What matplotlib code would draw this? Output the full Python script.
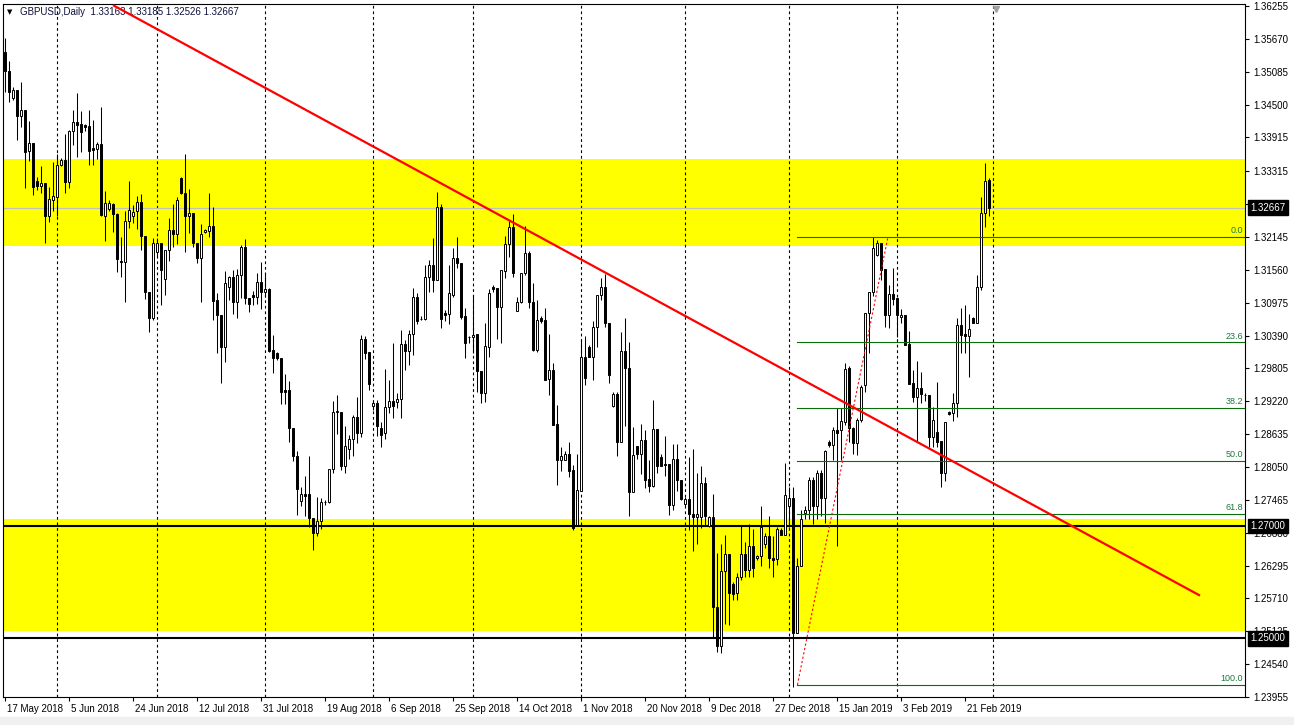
import matplotlib
matplotlib.use("Agg")
import matplotlib.pyplot as plt
import matplotlib.transforms as mtransforms
from matplotlib.patches import Rectangle

# daily GBPUSD candles, one entry per bar
opens = [
    1.3544, 1.3510, 1.3461, 1.3476, 1.3429, 1.3440, 1.3368, 1.3381, 1.3314, 1.3306,
    1.3310, 1.3251, 1.3281, 1.3286, 1.3343, 1.3352, 1.3313, 1.3403, 1.3419, 1.3415,
    1.3414, 1.3412, 1.3372, 1.3371, 1.3379, 1.3251, 1.3264, 1.3273, 1.3255, 1.3172,
    1.3169, 1.3242, 1.3252, 1.3260, 1.3276, 1.3216, 1.3117, 1.3071, 1.3188, 1.3204,
    1.3139, 1.3192, 1.3227, 1.3220, 1.3319, 1.3292, 1.3252, 1.3257, 1.3203, 1.3177,
    1.3224, 1.3225, 1.3234, 1.3102, 1.3076, 1.3019, 1.3126, 1.3143, 1.3099, 1.3147,
    1.3196, 1.3105, 1.3111, 1.3107, 1.3134, 1.3116, 1.3121, 1.3013, 1.3007, 1.2999,
    1.2942, 1.2942, 1.2874, 1.2825, 1.2745, 1.2757, 1.2756, 1.2714, 1.2688, 1.2708,
    1.2742, 1.2742, 1.2801, 1.2903, 1.2903, 1.2806, 1.2837, 1.2854, 1.2894, 1.2865,
    1.3032, 1.3009, 1.2913, 1.2919, 1.2875, 1.2865, 1.2912, 1.2923, 1.2920, 1.2926,
    1.3024, 1.3012, 1.3042, 1.3107, 1.3068, 1.3068, 1.3143, 1.3165, 1.3137, 1.3267,
    1.3079, 1.3078, 1.3111, 1.3177, 1.3168, 1.3074, 1.3037, 1.3036, 1.3042, 1.2975,
    1.2936, 1.3019, 1.3125, 1.3123, 1.3089, 1.3153, 1.3202, 1.3232, 1.3082, 1.3099,
    1.3151, 1.3185, 1.3098, 1.3013, 1.3070, 1.3066, 1.2961, 1.2978, 1.2882, 1.2817,
    1.2818, 1.2828, 1.2799, 1.2702, 1.2763, 1.3000, 1.3019, 1.3001, 1.3054, 1.3111,
    1.3125, 1.3062, 1.2913, 1.2935, 1.2850, 1.3012, 1.2981, 1.2761, 1.2843, 1.2828,
    1.2853, 1.2783, 1.2771, 1.2872, 1.2822, 1.2811, 1.2810, 1.2738, 1.2819, 1.2781,
    1.2739, 1.2748, 1.2722, 1.2716, 1.2716, 1.2776, 1.2700, 1.2716, 1.2556, 1.2487,
    1.2619, 1.2650, 1.2597, 1.2580, 1.2610, 1.2650, 1.2621, 1.2665, 1.2643, 1.2647,
    1.2668, 1.2682, 1.2643, 1.2641, 1.2693, 1.2684, 1.2736, 1.2749, 1.2510, 1.2629,
    1.2723, 1.2728, 1.2782, 1.2735, 1.2795, 1.2749, 1.2850, 1.2844, 1.2870, 1.2870,
    1.2885, 1.2981, 1.2874, 1.2848, 1.2889, 1.2951, 1.3079, 1.3117, 1.3182, 1.3204,
    1.3158, 1.3076, 1.3113, 1.3106, 1.3072, 1.3075, 1.3024, 1.2955, 1.2930, 1.2946,
    1.2933, 1.2933, 1.2859, 1.2867, 1.2852, 1.2795, 1.2903, 1.2901, 1.2919, 1.3058,
    1.3042, 1.3038, 1.3070, 1.3061, 1.3125, 1.3257, 1.33163,
]
highs = [
    1.3568, 1.3528, 1.3482, 1.3476, 1.3491, 1.3440, 1.3420, 1.3381, 1.3322, 1.3340,
    1.3310, 1.3304, 1.3347, 1.3362, 1.3355, 1.3397, 1.3405, 1.3440, 1.3470, 1.3439,
    1.3416, 1.3440, 1.3423, 1.3384, 1.3446, 1.3296, 1.3280, 1.3274, 1.3257, 1.3214,
    1.3260, 1.3314, 1.3271, 1.3288, 1.3291, 1.3216, 1.3117, 1.3212, 1.3212, 1.3204,
    1.3192, 1.3248, 1.3273, 1.3286, 1.3321, 1.3362, 1.3299, 1.3257, 1.3203, 1.3238,
    1.3228, 1.3292, 1.3267, 1.3114, 1.3076, 1.3153, 1.3145, 1.3155, 1.3157, 1.3200,
    1.3210, 1.3105, 1.3118, 1.3151, 1.3169, 1.3150, 1.3123, 1.3040, 1.3010, 1.2999,
    1.2971, 1.2958, 1.2874, 1.2834, 1.2770, 1.2789, 1.2825, 1.2714, 1.2752, 1.2750,
    1.2746, 1.2801, 1.2923, 1.2933, 1.2903, 1.2878, 1.2862, 1.2898, 1.2930, 1.3040,
    1.3038, 1.3009, 1.2925, 1.2925, 1.2885, 1.2979, 1.2960, 1.3025, 1.2936, 1.3049,
    1.3031, 1.3049, 1.3123, 1.3115, 1.3074, 1.3165, 1.3174, 1.3212, 1.3295, 1.3273,
    1.3085, 1.3165, 1.3194, 1.3214, 1.3168, 1.3088, 1.3038, 1.3110, 1.3042, 1.2975,
    1.3061, 1.3121, 1.3129, 1.3123, 1.3156, 1.3216, 1.3242, 1.3255, 1.3107, 1.3151,
    1.3234, 1.3190, 1.3132, 1.3102, 1.3073, 1.3088, 1.3042, 1.2990, 1.2916, 1.2840,
    1.2833, 1.2849, 1.2809, 1.2828, 1.3032, 1.3038, 1.3022, 1.3064, 1.3111, 1.3141,
    1.3149, 1.3062, 1.2938, 1.2938, 1.3045, 1.3070, 1.3027, 1.2876, 1.2843, 1.2882,
    1.2870, 1.2818, 1.2924, 1.2872, 1.2828, 1.2860, 1.2810, 1.2846, 1.2846, 1.2781,
    1.2751, 1.2822, 1.2837, 1.2794, 1.2807, 1.2787, 1.2717, 1.2756, 1.2651, 1.2668,
    1.2683, 1.2650, 1.2601, 1.2616, 1.2702, 1.2671, 1.2704, 1.2694, 1.2649, 1.2736,
    1.2687, 1.2717, 1.2682, 1.2699, 1.2696, 1.2812, 1.2769, 1.2769, 1.2643, 1.2729,
    1.2736, 1.2787, 1.2787, 1.2799, 1.2800, 1.2835, 1.2853, 1.2876, 1.2910, 1.2910,
    1.2990, 1.2985, 1.2876, 1.2893, 1.2950, 1.3079, 1.3117, 1.3215, 1.3209, 1.3204,
    1.3158, 1.3129, 1.3159, 1.3106, 1.3086, 1.3075, 1.3047, 1.2978, 1.2994, 1.2974,
    1.2937, 1.2933, 1.2912, 1.2956, 1.2852, 1.2885, 1.2905, 1.2937, 1.3070, 1.3088,
    1.3094, 1.3077, 1.3072, 1.3147, 1.3286, 1.3346, 1.33185,
]
lows = [
    1.3473, 1.3454, 1.3458, 1.3387, 1.3411, 1.3301, 1.3349, 1.3289, 1.3298, 1.3292,
    1.3203, 1.3241, 1.3260, 1.3251, 1.3340, 1.3292, 1.3301, 1.3378, 1.3357, 1.3366,
    1.3403, 1.3343, 1.3343, 1.3353, 1.3251, 1.3207, 1.3261, 1.3224, 1.3152, 1.3144,
    1.3099, 1.3230, 1.3239, 1.3228, 1.3191, 1.3104, 1.3046, 1.3066, 1.3180, 1.3094,
    1.3111, 1.3171, 1.3197, 1.3202, 1.3290, 1.3187, 1.3221, 1.3197, 1.3168, 1.3099,
    1.3222, 1.3214, 1.3066, 1.3008, 1.2954, 1.2991, 1.3103, 1.3078, 1.3070, 1.3105,
    1.3095, 1.3080, 1.3093, 1.3095, 1.3087, 1.3108, 1.3010, 1.2972, 1.2996, 1.2917,
    1.2917, 1.2850, 1.2815, 1.2720, 1.2736, 1.2718, 1.2699, 1.2658, 1.2682, 1.2694,
    1.2738, 1.2741, 1.2795, 1.2864, 1.2799, 1.2795, 1.2819, 1.2825, 1.2847, 1.2858,
    1.2997, 1.2942, 1.2907, 1.2860, 1.2840, 1.2855, 1.2901, 1.2892, 1.2910, 1.2892,
    1.2978, 1.2987, 1.3005, 1.3060, 1.3067, 1.3067, 1.3116, 1.3116, 1.3137, 1.3052,
    1.3064, 1.3060, 1.3108, 1.3159, 1.3068, 1.2999, 1.3026, 1.3008, 1.2939, 1.2919,
    1.2920, 1.3000, 1.3117, 1.3032, 1.3026, 1.3141, 1.3179, 1.3144, 1.3082, 1.3096,
    1.3147, 1.3088, 1.3012, 1.3009, 1.3062, 1.2960, 1.2933, 1.2880, 1.2773, 1.2797,
    1.2817, 1.2788, 1.2693, 1.2700, 1.2763, 1.2951, 1.3000, 1.2960, 1.3019, 1.3102,
    1.3055, 1.2955, 1.2912, 1.2824, 1.2849, 1.2878, 1.2718, 1.2760, 1.2819, 1.2793,
    1.2767, 1.2760, 1.2770, 1.2794, 1.2806, 1.2789, 1.2720, 1.2728, 1.2763, 1.2747,
    1.2735, 1.2693, 1.2655, 1.2668, 1.2696, 1.2700, 1.2699, 1.2502, 1.2475, 1.2473,
    1.2526, 1.2524, 1.2569, 1.2569, 1.2604, 1.2610, 1.2610, 1.2610, 1.2640, 1.2629,
    1.2661, 1.2625, 1.2610, 1.2631, 1.2683, 1.2684, 1.2699, 1.2414, 1.2510, 1.2629,
    1.2712, 1.2712, 1.2704, 1.2712, 1.2717, 1.2705, 1.2841, 1.2818, 1.2664, 1.2818,
    1.2880, 1.2850, 1.2828, 1.2827, 1.2885, 1.2939, 1.3008, 1.3110, 1.3181, 1.3138,
    1.3054, 1.3053, 1.3093, 1.3037, 1.3061, 1.3022, 1.2953, 1.2921, 1.2850, 1.2919,
    1.2922, 1.2841, 1.2841, 1.2841, 1.2770, 1.2780, 1.2897, 1.2887, 1.2894, 1.3008,
    1.3008, 1.2965, 1.3061, 1.3061, 1.3120, 1.3232, 1.32526,
]
closes = [
    1.3509, 1.3473, 1.3476, 1.3429, 1.3440, 1.3366, 1.3381, 1.3304, 1.3306, 1.3310,
    1.3251, 1.3282, 1.3287, 1.3343, 1.3352, 1.3313, 1.3403, 1.3419, 1.3414, 1.3402,
    1.3411, 1.3367, 1.3369, 1.3379, 1.3253, 1.3274, 1.3274, 1.3255, 1.3175, 1.3169,
    1.3243, 1.3263, 1.3258, 1.3276, 1.3216, 1.3117, 1.3071, 1.3204, 1.3204, 1.3156,
    1.3192, 1.3227, 1.3220, 1.3280, 1.3292, 1.3251, 1.3257, 1.3203, 1.3177, 1.3219,
    1.3227, 1.3234, 1.3101, 1.3075, 1.3019, 1.3132, 1.3143, 1.3099, 1.3147, 1.3196,
    1.3105, 1.3095, 1.3107, 1.3134, 1.3116, 1.3121, 1.3012, 1.2999, 1.2999, 1.2939,
    1.2939, 1.2874, 1.2824, 1.2766, 1.2757, 1.2753, 1.2714, 1.2688, 1.2708, 1.2742,
    1.2743, 1.2801, 1.2903, 1.2904, 1.2806, 1.2843, 1.2854, 1.2894, 1.2865, 1.3032,
    1.3007, 1.2953, 1.2919, 1.2878, 1.2862, 1.2912, 1.2923, 1.2914, 1.2926, 1.3024,
    1.3012, 1.3042, 1.3107, 1.3064, 1.3068, 1.3143, 1.3165, 1.3137, 1.3267, 1.3068,
    1.3075, 1.3114, 1.3177, 1.3168, 1.3072, 1.3026, 1.3037, 1.3040, 1.2975, 1.2936,
    1.3021, 1.3114, 1.3121, 1.3089, 1.3155, 1.3202, 1.3232, 1.3150, 1.3099, 1.3151,
    1.3185, 1.3098, 1.3013, 1.3067, 1.3064, 1.2960, 1.2978, 1.2880, 1.2818, 1.2825,
    1.2828, 1.2797, 1.2696, 1.2764, 1.3000, 1.2963, 1.3001, 1.3055, 1.3111, 1.3125,
    1.3062, 1.2969, 1.2935, 1.2850, 1.3012, 1.2981, 1.2761, 1.2827, 1.2828, 1.2853,
    1.2782, 1.2771, 1.2872, 1.2807, 1.2807, 1.2809, 1.2738, 1.2819, 1.2781, 1.2748,
    1.2748, 1.2722, 1.2716, 1.2722, 1.2776, 1.2717, 1.2716, 1.2556, 1.2487, 1.2619,
    1.2650, 1.2580, 1.2579, 1.2610, 1.2650, 1.2621, 1.2665, 1.2625, 1.2647, 1.2698,
    1.2682, 1.2643, 1.2640, 1.2694, 1.2684, 1.2755, 1.2749, 1.2510, 1.2629, 1.2712,
    1.2729, 1.2782, 1.2735, 1.2795, 1.2749, 1.2834, 1.2844, 1.2870, 1.2866, 1.2886,
    1.2980, 1.2875, 1.2848, 1.2889, 1.2948, 1.3079, 1.3117, 1.3195, 1.3204, 1.3156,
    1.3076, 1.3113, 1.3104, 1.3076, 1.3075, 1.3022, 1.2953, 1.2930, 1.2946, 1.2935,
    1.2933, 1.2859, 1.2889, 1.2850, 1.2795, 1.2885, 1.2899, 1.2919, 1.3058, 1.3040,
    1.3038, 1.3051, 1.3061, 1.3125, 1.3257, 1.3314, 1.32667,
]

date_labels = ["17 May 2018", "5 Jun 2018", "24 Jun 2018", "12 Jul 2018",
               "31 Jul 2018", "19 Aug 2018", "6 Sep 2018", "25 Sep 2018",
               "14 Oct 2018", "1 Nov 2018", "20 Nov 2018", "9 Dec 2018",
               "27 Dec 2018", "15 Jan 2019", "3 Feb 2019", "21 Feb 2019"]
date_bars = [0, 16, 32, 48, 64, 80, 96, 112, 128, 144, 160, 176, 192, 208, 224, 240]
month_start_bars = [13, 38, 65, 92, 117, 144, 170, 196, 223, 247]

price_labels = ["1.36255", "1.35670", "1.35085", "1.34500", "1.33915", "1.33315",
                "1.32730", "1.32145", "1.31560", "1.30975", "1.30390", "1.29805",
                "1.29220", "1.28635", "1.28050", "1.27465", "1.26880", "1.26295",
                "1.25710", "1.25125", "1.24540", "1.23955"]

upper_zone = (1.3198, 1.3354)
lower_zone = (1.2513, 1.2712)
key_levels = [1.27000, 1.25000]

trend_x = [27, 298.75]
trend_y = [1.3627, 1.2576]

fib_x = [198.1, 220.75]
fib_low = 1.2417
fib_high = 1.3215
fib_levels = [0.0, 23.6, 38.2, 50.0, 61.8, 100.0]

header = "GBPUSD,Daily  1.33163 1.33185 1.32526 1.32667"

plt.rcParams['font.family'] = ['Liberation Sans', 'DejaVu Sans']

fig = plt.figure(figsize=(12.94, 7.25), dpi=100)
W, H = 1294, 725
ax = fig.add_axes([3 / W, 28 / H, 1242 / W, 693 / H])
ax.set_xlim(-0.5, 310)
ax.set_ylim(1.23960, 1.36291)

# zones and horizontal levels
ax.axhspan(upper_zone[0], upper_zone[1], color='#FFFF00', lw=0, zorder=0)
ax.axhspan(lower_zone[0], lower_zone[1], color='#FFFF00', lw=0, zorder=0)
for m in month_start_bars:
    ax.axvline(m, color='black', lw=0.8, ls=(0, (2.5, 2.5)), zorder=1)
ax.axhline(closes[-1], color='#C0C0C0', lw=0.9, zorder=1.5)
for lvl in key_levels:
    ax.axhline(lvl, color='black', lw=1.5, zorder=2)

# candles
xs = list(range(len(closes)))
ax.vlines(xs, lows, highs, color='black', lw=0.75, zorder=3)
body_col = ['white' if c >= o else 'black' for o, c in zip(opens, closes)]
heights = [c - o for o, c in zip(opens, closes)]
ax.bar(xs, heights, bottom=opens, width=0.55, color=body_col,
       edgecolor='black', linewidth=0.7, zorder=4)

# trendline
ax.plot(trend_x, trend_y, color='#FF0000', lw=1.6, zorder=6, solid_capstyle='butt')

# fibonacci retracement
rng = fib_high - fib_low
for lvl in fib_levels:
    p = fib_high - lvl / 100 * rng
    ax.plot([fib_x[0], 310], [p, p], color='#0A6E0A', lw=0.8, zorder=5)
    ax.text(309.5, p + 0.0003, "%.1f" % lvl, color='#1E7A3C', fontsize=6.5,
            ha='right', va='bottom', zorder=5)
ax.plot(fib_x, [fib_low, fib_high], color='#FF0000', lw=0.8,
        ls=(0, (2, 2)), zorder=5)

# price axis on the right
ax.yaxis.tick_right()
ax.set_yticks([float(t) for t in price_labels])
ax.set_yticklabels(price_labels)
ax.tick_params(axis='y', right=True, left=False, length=3, width=0.8,
               pad=3, labelsize=7, colors='black')

ax.set_xticks(date_bars)
ax.set_xticklabels(date_labels)
ax.tick_params(axis='x', length=3, width=0.8, pad=2, labelsize=7)
offset = mtransforms.ScaledTranslation(2 / 100, 0, fig.dpi_scale_trans)
for lab in ax.get_xticklabels():
    lab.set_horizontalalignment('left')
    lab.set_transform(lab.get_transform() + offset)

for s in ax.spines.values():
    s.set_color('black')
    s.set_linewidth(0.8)

# price boxes on the axis
for val, txt in [(closes[-1], "1.32667"), (1.27, "1.27000"), (1.25, "1.25000")]:
    ax.annotate(txt, xy=(1, val), xycoords=('axes fraction', 'data'),
                xytext=(4, 0), textcoords='offset points', fontsize=7,
                color='white', va='center', ha='left', annotation_clip=False,
                bbox=dict(boxstyle='square,pad=0.25', fc='black', ec='black'),
                zorder=10)

# header
ax.text(4 / 1242, 1 - 8 / 693, "\u25bc", transform=ax.transAxes, fontsize=5,
        va='center', ha='left', color='black', family=['DejaVu Sans'], zorder=5)
ax.text(17 / 1242, 1 - 8 / 693, header, transform=ax.transAxes, fontsize=7,
        va='center', ha='left', color='#10103A', zorder=5)

# chart shift marker
ax.plot([247.75], [0.993], marker='v', color='#A0A0A0', ms=4,
        transform=mtransforms.blended_transform_factory(ax.transData, ax.transAxes),
        clip_on=False, zorder=7)

fig.patches.append(Rectangle((0, 0), 1, 8 / H, transform=fig.transFigure,
                             color='#F0F0F0', zorder=0))

fig.savefig("out.png", dpi=100, facecolor='white')
